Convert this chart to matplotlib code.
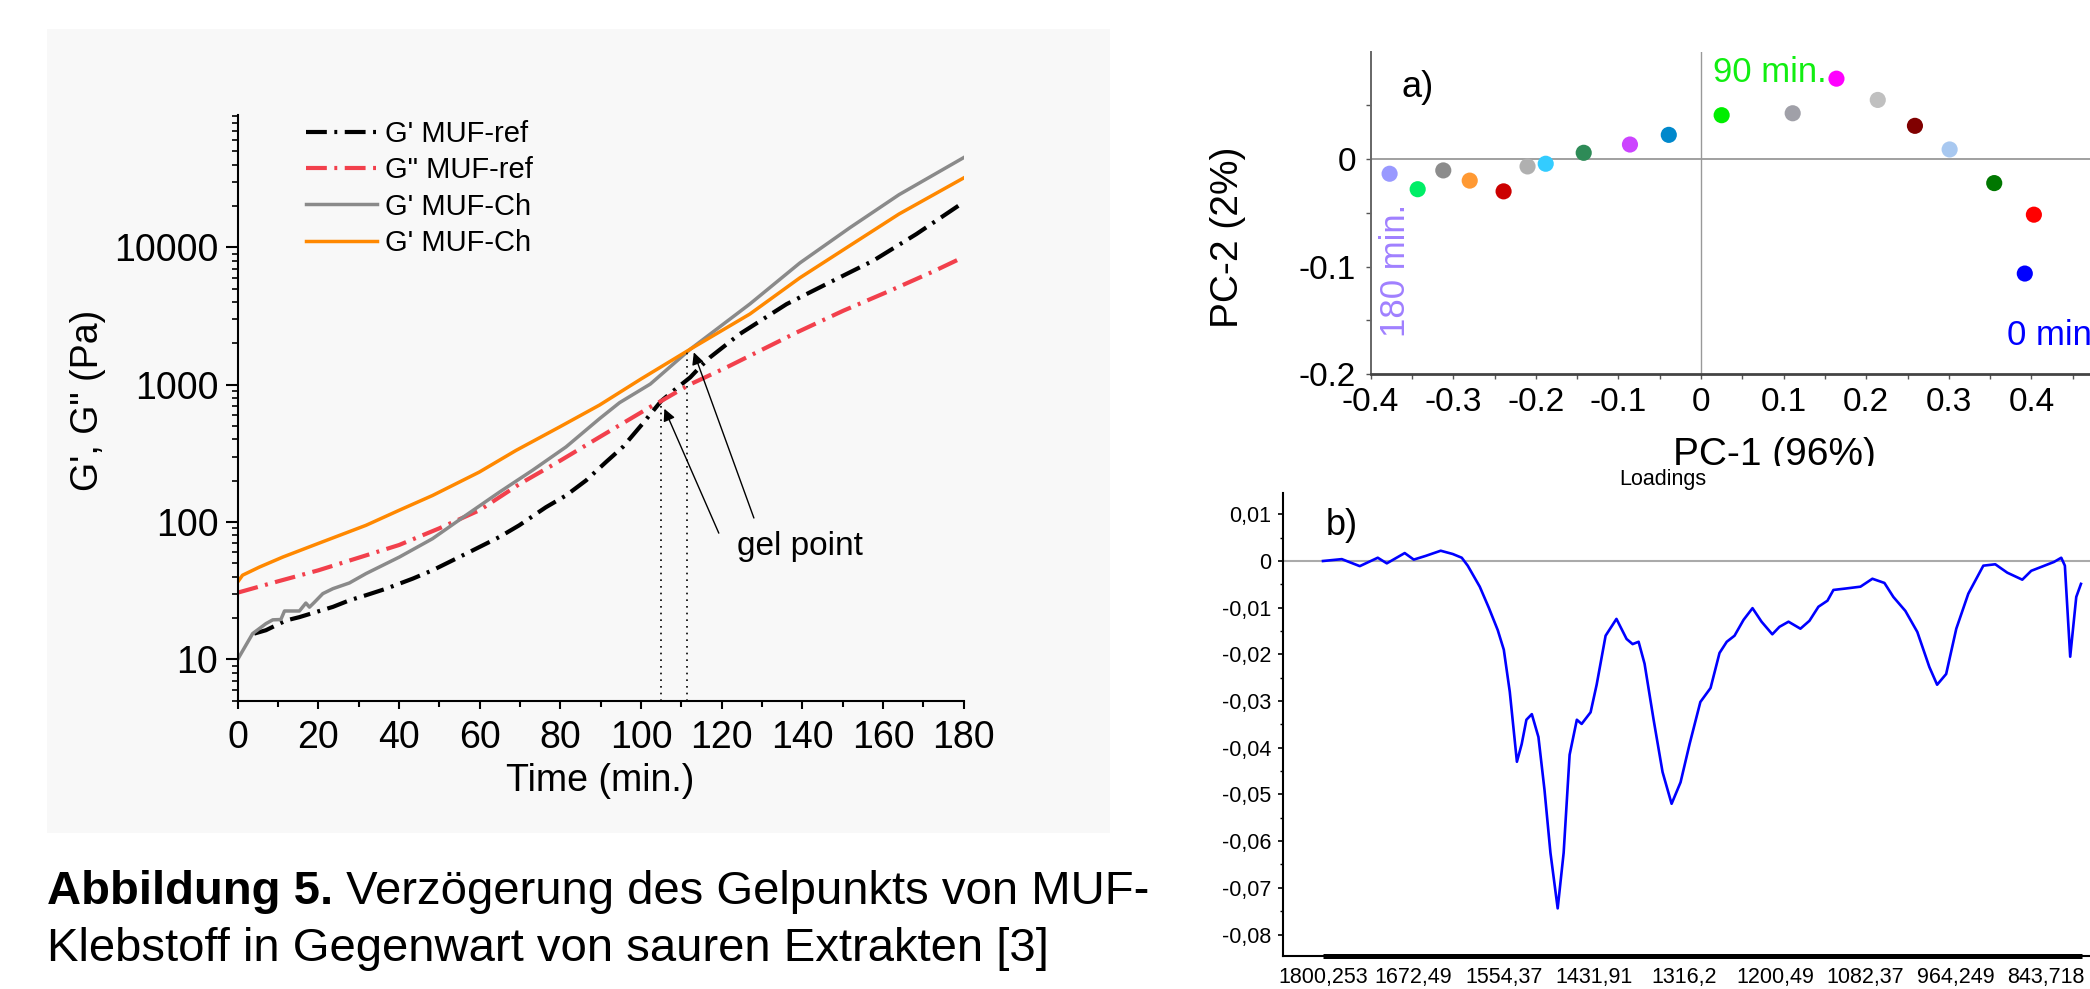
import matplotlib
matplotlib.use("Agg")
import matplotlib.pyplot as plt
from matplotlib.patches import Rectangle
from matplotlib.ticker import FixedLocator, LogLocator, NullFormatter, FuncFormatter, MultipleLocator
from matplotlib.transforms import blended_transform_factory

plt.rcParams['font.family'] = ['Liberation Sans', 'DejaVu Sans']
plt.rcParams['axes.unicode_minus'] = False

# rheology curves (left panel)
t_ref = [4.1, 7.0, 12.0, 15.3, 19.4, 23.6, 27.7, 31.8, 36.8, 43.4, 48.3, 53.3, 58.3, 64.9, 69.8,
         76.4, 81.4, 86.4, 91.3, 95.5, 100.4, 105, 108, 112.2, 114.6, 117.1, 124.5, 136.1, 147.6,
         157.6, 168.3, 180]
g1_ref = [15.4, 16.3, 19.2, 20.3, 22.1, 24.1, 26.9, 29.3, 32.7, 38.7, 44.5, 52.6, 62.2, 77.8, 94.6,
          128, 156, 201, 273, 352, 520, 760, 900, 1130, 1340, 1580, 2340, 3860, 5710,
          8000, 12500, 21300]
t_ref2 = [0, 10, 20, 30, 40, 50, 60, 70, 80, 90, 103, 105, 112, 121.2, 138.6, 150.2, 161.8, 172.5, 180]
g2_ref = [30.6, 37, 44.5, 55, 68, 90, 122, 190, 280, 420, 708, 760, 1000, 1336, 2400, 3460,
          4840, 6680, 8500]
t_ch = [0, 3.7, 7.0, 8.7, 10.7, 11.6, 15.3, 16.9, 17.8, 19.0, 21.1, 23.6, 27.7, 31.8, 40.1, 48.3,
        56.6, 64.9, 73.1, 81.4, 89.7, 94.7, 102.3, 112.3, 127, 139.4, 151.8, 164, 180]
g1_ch = [10, 15.4, 18.2, 19.4, 19.5, 22.5, 22.5, 25.7, 24.0, 26.0, 30.1, 32.7, 36.0, 42.1, 55.6, 75.6,
         112, 165, 238, 352, 565, 740, 1010, 1820, 3870, 7700, 13900, 24200, 45000]
t_ch2 = [0, 1.2, 5.4, 11.2, 19.8, 31.8, 40.1, 48.3, 59.9, 69, 79.8, 89.7, 100, 112.3, 127, 139.4,
         151.8, 164, 180]
g1_ch2 = [36.6, 41, 47, 55.6, 69.5, 94.6, 122, 156, 231, 332, 492, 710, 1100, 1820, 3270, 6000,
          10300, 17500, 32000]
legend_labels = ["G' MUF-ref", 'G" MUF-ref', "G' MUF-Ch", "G' MUF-Ch"]
gel_times = [105, 111.3]
gel_values = [760, 1820]

# PCA scores (top right), 0 min -> 180 min
pc1 = [0.392, 0.403, 0.355, 0.301, 0.259, 0.214, 0.164, 0.111, 0.025, -0.039, -0.086, -0.142,
       -0.188, -0.210, -0.239, -0.280, -0.312, -0.343, -0.377]
pc2 = [-0.1065, -0.0517, -0.0223, 0.009, 0.031, 0.0551, 0.0749, 0.0427, 0.0409, 0.0226, 0.0136,
       0.0059, -0.0043, -0.0068, -0.030, -0.020, -0.0105, -0.028, -0.0136]
score_colors = ['#0000ff', '#ff0000', '#007700', '#a8c8f0', '#800000', '#c0c0c0', '#ff00ff',
                '#a0a0a8', '#00ee00', '#0088cc', '#cc44ff', '#2e8b57', '#33ccff', '#b0b0b0',
                '#cc0000', '#ff9933', '#8c8c8c', '#00ee66', '#9999ff']

# PC-1 loadings (bottom right), x in tick-index units
wavenumber_labels = ['1800,253', '1672,49', '1554,37', '1431,91', '1316,2', '1200,49',
                     '1082,37', '964,249', '843,718']
load_ticks_y = [0.01, 0, -0.01, -0.02, -0.03, -0.04, -0.05, -0.06, -0.07, -0.08]
load_pos = [0.000, 0.208, 0.407, 0.606, 0.706, 0.904, 1.004, 1.137, 1.302, 1.435, 1.535, 1.601,
            1.734, 1.834, 1.933, 2.000, 2.066, 2.145, 2.198, 2.250, 2.310, 2.383, 2.450, 2.516,
            2.596, 2.662, 2.728, 2.808, 2.861, 2.960, 3.027, 3.126, 3.246, 3.358, 3.425, 3.491,
            3.557, 3.657, 3.756, 3.856, 3.955, 4.055, 4.174, 4.287, 4.386, 4.466, 4.552, 4.652,
            4.751, 4.851, 4.970, 5.049, 5.149, 5.281, 5.381, 5.480, 5.580, 5.646, 5.779, 5.945,
            6.077, 6.210, 6.309, 6.442, 6.574, 6.707, 6.793, 6.893, 7.005, 7.138, 7.304, 7.436,
            7.569, 7.735, 7.834, 7.967, 8.086, 8.166, 8.206, 8.265, 8.332, 8.384]
load_val = [0.0000, 0.0004, -0.0011, 0.0007, -0.0005, 0.0017, 0.0003, 0.0011, 0.0022, 0.0015,
            0.0007, -0.0010, -0.0055, -0.0100, -0.0148, -0.0190, -0.0280, -0.0430, -0.0392,
            -0.0340, -0.0328, -0.0377, -0.0490, -0.0625, -0.0744, -0.0625, -0.0415, -0.0340,
            -0.0349, -0.0324, -0.0265, -0.0160, -0.0124, -0.0167, -0.0178, -0.0173, -0.0220,
            -0.0340, -0.0452, -0.0520, -0.0474, -0.0392, -0.0302, -0.0272, -0.0197, -0.0173,
            -0.0160, -0.0126, -0.0101, -0.0130, -0.0157, -0.0141, -0.0130, -0.0145, -0.0128,
            -0.0098, -0.0085, -0.0062, -0.0059, -0.0055, -0.0038, -0.0047, -0.0077, -0.0107,
            -0.0152, -0.0227, -0.0265, -0.0242, -0.0145, -0.0070, -0.0010, -0.0007, -0.0025,
            -0.0040, -0.0021, -0.0011, -0.0002, 0.0007, -0.0010, -0.0205, -0.0077, -0.0049]

W, H = 2090, 989
fig = plt.figure(figsize=(W / 100, H / 100), dpi=100)

# light panel behind the rheology plot
fig.add_artist(Rectangle((47 / W, 1 - 833 / H), (1110 - 47) / W, (833 - 29) / H,
                         transform=fig.transFigure, facecolor='#f8f8f8', edgecolor='none', zorder=-1))

# ---------- left: rheology ----------
ax = fig.add_axes([237.7 / W, 1 - 700.7 / H, (963.6 - 237.7) / W, (700.7 - 115) / H])
ax.set_facecolor('none')
ax.set_yscale('log')
dashdot = (0, (5, 1.8, 0.7, 1.8))
ax.plot(t_ref, g1_ref, color='black', lw=3.0, linestyle=dashdot, label=legend_labels[0])
ax.plot(t_ref2, g2_ref, color='#f2404c', lw=3.0, linestyle=dashdot, label=legend_labels[1])
ax.plot(t_ch, g1_ch, color='#8a8a8a', lw=2.5, label=legend_labels[2])
ax.plot(t_ch2, g1_ch2, color='#ff8800', lw=2.5, label=legend_labels[3])
for tg, gv in zip(gel_times, gel_values):
    ax.plot([tg, tg], [5, gv], color='black', lw=1.2, linestyle=(0, (1, 3)))

arrow = dict(arrowstyle='-|>', color='black', lw=1.0, mutation_scale=18, shrinkA=0, shrinkB=0)
ax.annotate('', xy=(105.8, 668), xytext=(119.3, 83), arrowprops=arrow)
ax.annotate('', xy=(113.1, 1720), xytext=(128, 107), arrowprops=arrow)
ax.text(123.8, 66.5, 'gel point', fontsize=24, va='center', ha='left')

ax.set_xlim(0, 180)
ax.set_ylim(5, 9.2e4)
ax.xaxis.set_major_locator(MultipleLocator(20))
ax.xaxis.set_minor_locator(MultipleLocator(10))
ax.yaxis.set_major_locator(FixedLocator([10, 100, 1000, 10000]))
ax.yaxis.set_major_formatter(FuncFormatter(lambda v, _: f"{v:.0f}"))
ax.yaxis.set_minor_locator(LogLocator(base=10, subs=range(2, 10)))
ax.yaxis.set_minor_formatter(NullFormatter())
for s in ['top', 'right']:
    ax.spines[s].set_visible(False)
for s in ['left', 'bottom']:
    ax.spines[s].set_linewidth(1.5)
ax.tick_params(axis='x', which='major', length=6, width=1.5, pad=8, labelsize=27, direction='out')
ax.tick_params(axis='x', which='minor', length=4, width=1.5, direction='out')
ax.tick_params(axis='y', which='major', length=8.5, width=1.5, pad=5.5, labelsize=27, direction='out')
ax.tick_params(axis='y', which='minor', length=4.5, width=1.2, direction='out')
ax.set_xlabel('Time (min.)', fontsize=27)
ax.xaxis.set_label_coords(0.5, -0.1064)
ax.set_ylabel('G\', G" (Pa)', fontsize=27)
ax.yaxis.set_label_coords(-0.181, 0.513)
ax.legend(loc='upper left', bbox_to_anchor=(0.094, 0.991), frameon=False, fontsize=21,
          handlelength=2.43, handletextpad=0.27, labelspacing=0.28, borderpad=0, borderaxespad=0)

# caption
cap_x = 47 / W
bold = fig.text(cap_x, 1 - 903.5 / H, 'Abbildung 5.', fontsize=34, fontweight='bold', va='baseline')
renderer = fig.canvas.get_renderer()
bb = bold.get_window_extent(renderer)
fig.text(bb.x1 / W, 1 - 903.5 / H, ' Verzögerung des Gelpunkts von MUF-', fontsize=34, va='baseline')
fig.text(cap_x, 1 - 961 / H, 'Klebstoff in Gegenwart von sauren Extrakten [3]', fontsize=34, va='baseline')

# ---------- top right: PCA scores ----------
ax2 = fig.add_axes([1370.6 / W, 1 - 374 / H, 803.7 / W, (374 - 51.7) / H])
ax2.set_xlim(-0.4, 0.573)
ax2.set_ylim(-0.2, 0.1)
ax2.axhline(0, color='#999999', lw=1.3, zorder=1)
ax2.axvline(0, color='#999999', lw=1.0, zorder=1)
ax2.scatter(pc1, pc2, s=135, c=score_colors, edgecolors='none', zorder=3)
ax2.text(-0.363, 0.067, 'a)', fontsize=26, va='center', ha='left')
ax2.text(0.015, 0.0715, '90 min.', color='#11ee11', fontsize=25, va='baseline')
ax2.text(0.371, -0.173, '0 min.', color='#0000ff', fontsize=25, va='baseline')
ax2.text(-0.370, -0.166, '180 min.', color='#a080ff', fontsize=25, rotation=90, ha='center', va='bottom')
ax2.xaxis.set_major_locator(MultipleLocator(0.1))
ax2.xaxis.set_minor_locator(MultipleLocator(0.05))
ax2.xaxis.set_major_formatter(FuncFormatter(lambda v, _: f"{round(v, 2):g}"))
ax2.yaxis.set_major_locator(FixedLocator([-0.2, -0.1, 0]))
ax2.yaxis.set_minor_locator(FixedLocator([-0.15, -0.05, 0.05]))
ax2.yaxis.set_major_formatter(FuncFormatter(lambda v, _: f"{round(v, 2):g}"))
for s in ['top', 'right']:
    ax2.spines[s].set_visible(False)
ax2.spines['left'].set_color('#666666')
ax2.spines['left'].set_linewidth(1.4)
ax2.spines['bottom'].set_color('#444444')
ax2.spines['bottom'].set_linewidth(2.0)
ax2.tick_params(axis='both', which='both', length=3.6, width=1.0, color='#555555', direction='out')
ax2.tick_params(axis='x', which='major', pad=5.5, labelsize=24)
ax2.tick_params(axis='y', which='major', pad=7, labelsize=24)
ax2.set_xlabel('PC-1 (96%)', fontsize=28)
ax2.xaxis.set_label_coords(0.502, -0.1945)
ax2.set_ylabel('PC-2 (2%)', fontsize=28)
ax2.yaxis.set_label_coords(-0.155, 0.4235)

# white band that cuts the PC-1 label
fig.add_artist(Rectangle((1150 / W, 0), (W - 1150) / W, (H - 466) / H, transform=fig.transFigure,
                         facecolor='white', edgecolor='none', zorder=1))

# ---------- bottom right: loadings ----------
ax3 = fig.add_axes([1283.3 / W, 1 - 956 / H, (W - 1283.3) / W, (956 - 493.3) / H], zorder=2)
ax3.set_facecolor('none')
ax3.set_xlim(-0.439, 8.484)
ax3.set_ylim(-0.0846, 0.0145)
ax3.axhline(0, color='#aaaaaa', lw=1.5, zorder=1)
ax3.plot(load_pos, load_val, color='#0000ff', lw=1.9, zorder=2)
ax3.text(0.033, 0.0077, 'b)', fontsize=26, va='center', ha='left')
ax3.set_xticks(range(len(wavenumber_labels)))
ax3.set_xticklabels(wavenumber_labels)
ax3.set_yticks(load_ticks_y)
ax3.set_yticklabels(['0' if v == 0 else f"{v:.2f}".replace('.', ',') for v in load_ticks_y])
ax3.yaxis.set_minor_locator(MultipleLocator(0.005))
for s in ['top', 'right']:
    ax3.spines[s].set_visible(False)
for s in ['left', 'bottom']:
    ax3.spines[s].set_linewidth(1.5)
ax3.plot([0, 8.4], [0, 0], transform=blended_transform_factory(ax3.transData, ax3.transAxes),
         color='black', lw=3.6, solid_capstyle='butt', clip_on=False, zorder=3)
ax3.tick_params(axis='x', which='major', length=0, pad=8, labelsize=15.5)
ax3.tick_params(axis='y', which='major', length=3.5, width=1.2, pad=5, labelsize=15.5, direction='out')
ax3.tick_params(axis='y', which='minor', length=2.5, width=1.0, direction='out')
fig.text(1663 / W, 1 - 480 / H, 'Loadings', fontsize=15.5, ha='center', va='center', zorder=3)

fig.savefig('out.png', dpi=100)
